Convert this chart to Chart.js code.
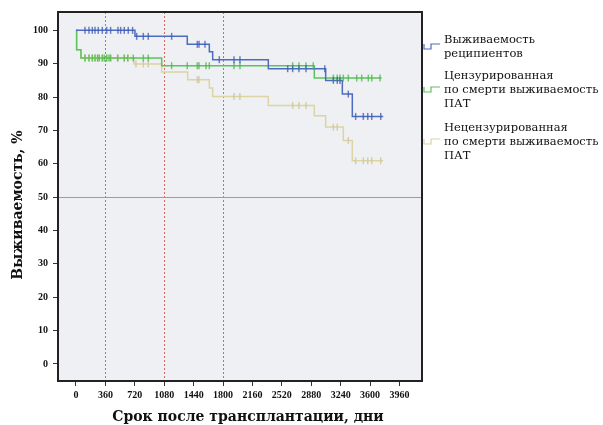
<!DOCTYPE html>
<html>
<head>
<meta charset="utf-8">
<script src="https://cdn.jsdelivr.net/npm/chart.js@4.4.1/dist/chart.umd.min.js"></script>
<style>
  html, body { margin: 0; background: #fff; }
</style>
</head>
<body>
<canvas id="km" width="603" height="425"></canvas>
<script>
const xTicks = [0, 360, 720, 1080, 1440, 1800, 2160, 2520, 2880, 3240, 3600, 3960];
const yTicks = [0, 10, 20, 30, 40, 50, 60, 70, 80, 90, 100];
const refDays = [360, 1080, 1800];
const refLevel = 50;

// recipients survival
const recipTimes = [0, 722, 1362, 1632, 1673, 2354, 3056, 3260, 3382];
const recipSurv = [100, 98.2, 95.8, 93.6, 91.2, 88.5, 85.0, 80.9, 74.2];
const recipEnd = 3760;
const recipCens = [110, 159, 200, 233, 273, 322, 376, 424, 514, 547, 591, 640, 693,
  743, 824, 885, 1171, 1485, 1506, 1579, 1754, 1934, 2007,
  2591, 2652, 2729, 2815, 3045, 3150, 3198, 3231, 3333,
  3423, 3517, 3571, 3620, 3730];

// PAT survival, censored by death
const censTimes = [0, 8, 61, 1049, 2917];
const censSurv = [100, 94.2, 91.7, 89.4, 85.7];
const censEnd = 3741;
const censCens = [110, 159, 200, 233, 265, 285, 322, 346, 376, 404, 424, 510, 591, 633, 701,
  824, 885, 1171, 1362, 1485, 1506, 1591, 1632, 1934, 2007,
  2652, 2729, 2815, 2904, 3150, 3198, 3231, 3272, 3333, 3436, 3497, 3578, 3620, 3721];

// PAT survival, uncensored
const uncTimes = [0, 8, 61, 710, 1049, 1367, 1632, 1673, 2354, 2917, 3056, 3272, 3382];
const uncSurv = [100, 94.2, 91.7, 89.9, 87.5, 85.2, 82.7, 80.2, 77.5, 74.4, 71.0, 67.0, 60.9];
const uncEnd = 3760;
const uncCens = [110, 159, 200, 233, 265, 322, 376, 424, 514, 591, 640,
  734, 824, 885, 1485, 1506, 1934, 2007, 2652, 2729, 2815,
  3150, 3198, 3333, 3423, 3517, 3571, 3620, 3730];

const legendItems = [
  { lines: ['Выживаемость', 'реципиентов'], color: '#4d6cc0' },
  { lines: ['Цензурированная', 'по смерти выживаемость', 'ПАТ'], color: '#5cc25c' },
  { lines: ['Нецензурированная', 'по смерти выживаемость', 'ПАТ'], color: '#dcd4a4' },
];

function curve(times, surv, end) {
  const pts = times.map((t, i) => ({ x: t, y: surv[i] }));
  pts.push({ x: end, y: surv[surv.length - 1] });
  return pts;
}

function levelAt(times, surv, t) {
  let v = surv[0];
  for (let i = 0; i < times.length; i++) {
    if (times[i] <= t) v = surv[i];
  }
  return v;
}

function marks(times, surv, cens) {
  return cens.map(t => ({ x: t, y: levelAt(times, surv, t) }));
}

function stepSet(data, color) {
  return {
    type: 'line', data, stepped: true, borderColor: color, borderWidth: 1.5,
    pointRadius: 0, fill: false,
  };
}

function markSet(data, color) {
  return {
    type: 'scatter', data, pointStyle: 'line', rotation: 90, pointRadius: 3.5,
    borderColor: color, borderWidth: 1.5, backgroundColor: color,
  };
}

const decor = {
  id: 'decor',
  beforeDraw(chart) {
    const { ctx, chartArea: a } = chart;
    ctx.save();
    ctx.fillStyle = '#eff0f3';
    ctx.fillRect(a.left, a.top, a.right - a.left, a.bottom - a.top);
    ctx.restore();
  },
  beforeDatasetsDraw(chart) {
    const { ctx, chartArea: a, scales } = chart;
    ctx.save();
    ctx.lineWidth = 1;
    ctx.setLineDash([2, 2]);
    ctx.strokeStyle = '#d46a6a';
    refDays.forEach(d => {
      const x = Math.round(scales.x.getPixelForValue(d)) + 0.5;
      ctx.beginPath();
      ctx.moveTo(x, a.top);
      ctx.lineTo(x, a.bottom);
      ctx.stroke();
    });
    ctx.setLineDash([]);
    ctx.strokeStyle = '#b89090';
    const y = Math.round(scales.y.getPixelForValue(refLevel)) + 0.5;
    ctx.beginPath();
    ctx.moveTo(a.left, y);
    ctx.lineTo(a.right, y);
    ctx.stroke();
    ctx.restore();
  },
  afterDraw(chart) {
    const { ctx, chartArea: a } = chart;
    ctx.save();
    ctx.strokeStyle = '#222';
    ctx.lineWidth = 2;
    ctx.strokeRect(a.left, a.top, a.right - a.left, a.bottom - a.top);

    // axis titles
    ctx.fillStyle = '#111';
    ctx.font = 'bold 14px "DejaVu Serif"';
    ctx.textAlign = 'center';
    ctx.textBaseline = 'middle';
    ctx.fillText('Срок после трансплантации, дни', 248, 417);
    ctx.save();
    ctx.translate(18, 205);
    ctx.rotate(-Math.PI / 2);
    ctx.fillText('Выживаемость, %', 0, 0);
    ctx.restore();

    // legend
    ctx.font = '11.5px "DejaVu Serif"';
    ctx.textAlign = 'left';
    const tops = [40, 76, 128];
    legendItems.forEach((it, i) => {
      it.lines.forEach((l, j) => ctx.fillText(l, 444, tops[i] + j * 14));
      const mid = tops[i] + (it.lines.length - 1) * 7;
      ctx.strokeStyle = it.color;
      ctx.lineWidth = 1.2;
      ctx.beginPath();
      ctx.moveTo(424, mid - 3);
      ctx.lineTo(424, mid + 2);
      ctx.lineTo(431, mid + 2);
      ctx.lineTo(431, mid - 3);
      ctx.lineTo(440, mid - 3);
      ctx.stroke();
    });
    ctx.restore();
  },
};

const tickFont = { family: 'Liberation Serif', weight: 'bold', size: 10 };

new Chart(document.getElementById('km'), {
  data: {
    datasets: [
      markSet(marks(recipTimes, recipSurv, recipCens), 'rgba(60,90,180,0.75)'),
      markSet(marks(censTimes, censSurv, censCens), 'rgba(70,185,70,0.75)'),
      markSet(marks(uncTimes, uncSurv, uncCens), 'rgba(210,200,150,0.85)'),
      stepSet(curve(recipTimes, recipSurv, recipEnd), '#4d6cc0'),
      stepSet(curve(censTimes, censSurv, censEnd), '#5cc25c'),
      stepSet(curve(uncTimes, uncSurv, uncEnd), '#dcd4a4'),
    ],
  },
  options: {
    responsive: false,
    animation: false,
    layout: { padding: { left: 0, right: 181, top: 12, bottom: 0 } },
    plugins: {
      legend: { display: false },
      tooltip: { enabled: false },
    },
    scales: {
      x: {
        type: 'linear',
        min: -220,
        max: 4235,
        afterFit: s => { s.height = 44; },
        afterBuildTicks: s => { s.ticks = xTicks.map(v => ({ value: v })); },
        grid: { drawOnChartArea: false, tickLength: 5, color: '#333' },
        border: { color: '#222', width: 2 },
        ticks: {
          padding: 3, maxRotation: 0, autoSkip: false, color: '#111',
          font: tickFont, callback: v => String(v),
        },
      },
      y: {
        type: 'linear',
        min: -5.1,
        max: 105.5,
        afterFit: s => { s.width = 58; },
        afterBuildTicks: s => { s.ticks = yTicks.map(v => ({ value: v })); },
        grid: { drawOnChartArea: false, tickLength: 5, color: '#333' },
        border: { color: '#222', width: 2 },
        ticks: {
          padding: 5, autoSkip: false, color: '#111',
          font: tickFont, callback: v => String(v),
        },
      },
    },
  },
  plugins: [decor],
});
</script>
</body>
</html>
